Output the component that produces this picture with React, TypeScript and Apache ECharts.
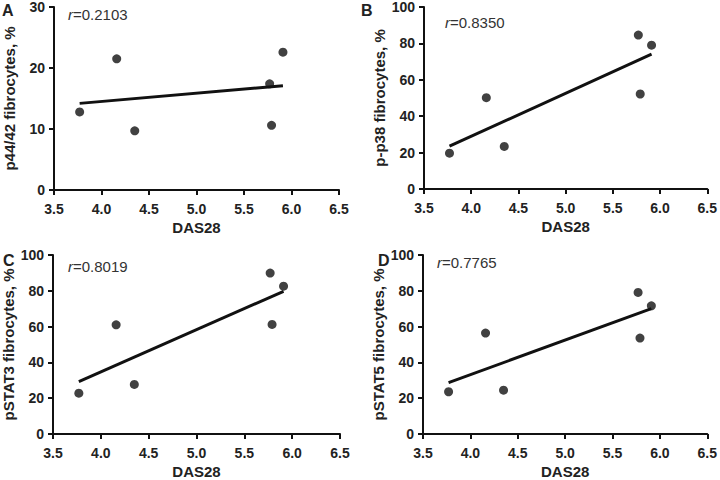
import React, { useEffect, useRef } from "react";
import * as echarts from "echarts";

const das28 = [3.77, 4.16, 4.35, 5.77, 5.79, 5.91];
const p4442 = [12.8, 21.5, 9.7, 17.4, 10.6, 22.6];
const pp38 = [19.7, 50.2, 23.4, 84.6, 52.2, 79.0];
const pstat3 = [22.8, 61.0, 27.7, 89.9, 61.2, 82.6];
const pstat5 = [23.6, 56.4, 24.5, 79.1, 53.6, 71.6];

const fitX = [3.77, 5.91];
const fitA = [14.2, 17.1];
const fitB = [23.5, 74.1];
const fitC = [29.3, 79.7];
const fitD = [28.7, 70.0];

const panelLetters = ["A", "B", "C", "D"];
const yTitles = [
  "p44/42 fibrocytes, %",
  "p-p38 fibrocytes, %",
  "pSTAT3 fibrocytes, %",
  "pSTAT5 fibrocytes, %",
];
const rValues = ["0.2103", "0.8350", "0.8019", "0.7765"];
const yMax = [30, 100, 100, 100];
const yInterval = [10, 20, 20, 20];

const FONT = "Liberation Sans, Arial, Helvetica, sans-serif";

export default function App() {
  const ref = useRef<HTMLDivElement>(null);
  useEffect(() => {
    if (!ref.current) return;
    const chart = echarts.init(ref.current, undefined, { renderer: "svg" });
    const grids = [
      { left: 54, top: 5, width: 285, height: 185 },
      { left: 424, top: 5, width: 285, height: 184 },
      { left: 53, top: 255, width: 287, height: 184 },
      { left: 423, top: 255, width: 286, height: 183 },
    ];
    const ys = [p4442, pp38, pstat3, pstat5];
    const fits = [fitA, fitB, fitC, fitD];
    const axisCommon = {
      axisLine: { show: true, lineStyle: { color: "#111", width: 2 } },
      axisTick: { show: true, inside: false, length: 5, lineStyle: { color: "#111", width: 2 } },
      splitLine: { show: false },
    };
    const xAxis = grids.map((_, i) => ({
      type: "value",
      gridIndex: i,
      min: 3.5,
      max: 6.5,
      interval: 0.5,
      name: "DAS28",
      nameLocation: "middle",
      nameGap: 30,
      nameTextStyle: { fontFamily: FONT, fontWeight: "bold", fontSize: 15, color: "#222" },
      axisLabel: {
        fontFamily: FONT,
        fontWeight: "bold",
        fontSize: 14,
        color: "#222",
        margin: 12,
        formatter: (v: number) => v.toFixed(1),
      },
      ...axisCommon,
    }));
    const yAxis = grids.map((_, i) => ({
      type: "value",
      gridIndex: i,
      min: 0,
      max: yMax[i],
      interval: yInterval[i],
      name: yTitles[i],
      nameLocation: "middle",
      nameGap: 37,
      nameTextStyle: { fontFamily: FONT, fontWeight: "bold", fontSize: 15, color: "#222" },
      axisLabel: { fontFamily: FONT, fontWeight: "bold", fontSize: 14, color: "#222", margin: 9 },
      ...axisCommon,
    }));
    const series: any[] = [];
    grids.forEach((_, i) => {
      series.push({
        type: "scatter",
        xAxisIndex: i,
        yAxisIndex: i,
        symbolSize: 9,
        itemStyle: { color: "#111" },
        data: das28.map((x, k) => [x, ys[i][k]]),
        z: 3,
      });
      series.push({
        type: "line",
        xAxisIndex: i,
        yAxisIndex: i,
        showSymbol: false,
        symbol: "none",
        lineStyle: { color: "#111", width: 3 },
        data: fitX.map((x, k) => [x, fits[i][k]]),
        z: 2,
      });
    });
    const letterPos = [
      [2, 2],
      [361, 2],
      [3, 252],
      [378, 252],
    ];
    const rPos = [
      [68, 7],
      [445, 15],
      [68, 259],
      [437, 255],
    ];
    const graphic: any[] = [];
    panelLetters.forEach((L, i) => {
      graphic.push({
        type: "text",
        left: letterPos[i][0],
        top: letterPos[i][1],
        style: { text: L, fontFamily: FONT, fontWeight: "bold", fontSize: 16, fill: "#222" },
      });
      graphic.push({
        type: "text",
        left: rPos[i][0],
        top: rPos[i][1],
        style: {
          text: "{i|r}{n|=" + rValues[i] + "}",
          rich: {
            i: { fontFamily: FONT, fontStyle: "italic", fontSize: 15, fill: "#333" },
            n: { fontFamily: FONT, fontSize: 15, fill: "#333" },
          },
        },
      });
    });
    chart.setOption({
      animation: false,
      backgroundColor: "#fff",
      grid: grids,
      xAxis,
      yAxis,
      series,
      graphic,
    });
    return () => chart.dispose();
  }, []);
  return (
    <div
      ref={ref}
      style={{ position: "fixed", left: 0, top: 0, width: 720, height: 480 }}
    />
  );
}
